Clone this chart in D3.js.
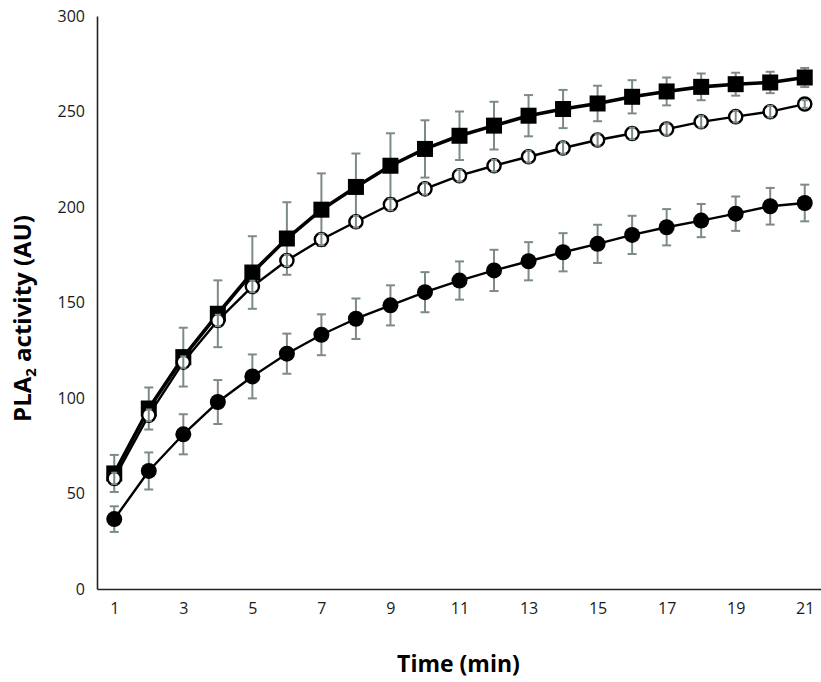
<!DOCTYPE html>
<html>
<head>
<meta charset="utf-8">
<script src="https://cdn.jsdelivr.net/npm/d3@7"></script>
<style>
  html, body { margin: 0; padding: 0; background: #fff; }
  svg { display: block; }
  .tick text { font-family: "Open Sans", sans-serif; font-size: 16px; fill: #1a1a1a; }
</style>
</head>
<body>
<svg id="chart" width="821" height="682"></svg>
<script>
// ---- data ----
const times = [1,2,3,4,5,6,7,8,9,10,11,12,13,14,15,16,17,18,19,20,21];
const xTickLabels = [1,3,5,7,9,11,13,15,17,19,21];
const yTickLabels = [0,50,100,150,200,250,300];

const squareValues = [60.5, 94.5, 121.4, 144.1, 165.7, 183.5, 198.6, 210.5, 221.6, 230.4, 237.3, 242.6, 247.8, 251.3, 254.2, 257.7, 260.5, 262.9, 264.3, 265.2, 267.8];
const squareErrors = [9.7, 11, 15.4, 17.5, 19, 19, 19, 17.5, 17, 15, 12.7, 12.5, 10.8, 10, 9.3, 8.7, 7.3, 7, 6, 5.6, 5];

const openValues = [57.9, 91, 118.8, 140.6, 158.4, 172, 183, 192.3, 201.3, 209.5, 216.4, 221.6, 226.3, 230.9, 235.1, 238.5, 240.8, 244.6, 247.3, 249.9, 253.9];
const openErrors = [3, 3, 3, 3, 3, 3, 3, 3, 3, 3, 3, 3, 3, 3, 3, 3, 3, 3, 3, 3, 2];

const filledValues = [36.6, 61.8, 81, 97.9, 111.3, 123.2, 133.1, 141.5, 148.5, 155.4, 161.5, 166.8, 171.6, 176.3, 180.7, 185.4, 189.4, 192.9, 196.5, 200.4, 202.1];
const filledErrors = [6.7, 9.7, 10.5, 11.5, 11.5, 10.5, 10.7, 10.6, 10.5, 10.5, 10, 10.8, 10, 10, 10, 10, 9.5, 8.7, 9, 9.6, 9.6];

// ---- layout ----
const svg = d3.select("#chart");
const x = d3.scaleLinear().domain([0.5, 21.5]).range([97, 822]);
const y = d3.scaleLinear().domain([0, 300]).range([589, 16]);

const errColor = "#7d8a8a";

// axes
const xAxis = svg.append("g")
  .attr("transform", `translate(0,${y(0)})`)
  .call(d3.axisBottom(x).tickValues(xTickLabels).tickSize(0).tickPadding(14).tickFormat(d3.format("d")));
xAxis.select(".domain").attr("stroke", "#222").attr("stroke-width", 1.6);

const yAxis = svg.append("g")
  .attr("transform", `translate(${x(0.5)},0)`)
  .call(d3.axisLeft(y).tickValues(yTickLabels).tickSize(0).tickPadding(12));
yAxis.select(".domain").attr("stroke", "#222").attr("stroke-width", 1.6);

// series
const series = [
  {values: squareValues, errors: squareErrors, marker: "square", lw: 3.6},
  {values: openValues, errors: openErrors, marker: "open", lw: 2.4},
  {values: filledValues, errors: filledErrors, marker: "filled", lw: 2.4}
];

const line = d3.line().x((d, i) => x(times[i])).y(d => y(d));

// lines
series.forEach(s => {
  svg.append("path").datum(s.values)
    .attr("fill", "none").attr("stroke", "#000").attr("stroke-width", s.lw)
    .attr("stroke-linejoin", "round")
    .attr("d", line);
});

function drawErrors(s, cap) {
  const g = svg.append("g").attr("stroke", errColor).attr("stroke-width", 2);
  s.values.forEach((v, i) => {
    const cx = x(times[i]);
    const y1 = y(v + s.errors[i]), y2 = y(v - s.errors[i]);
    g.append("line").attr("x1", cx).attr("x2", cx).attr("y1", y1).attr("y2", y2);
    g.append("line").attr("x1", cx - cap).attr("x2", cx + cap).attr("y1", y1).attr("y2", y1);
    g.append("line").attr("x1", cx - cap).attr("x2", cx + cap).attr("y1", y2).attr("y2", y2);
  });
}

// error bars below solid markers
drawErrors(series[0], 4.5);
drawErrors(series[2], 4.5);

// markers
series.forEach(s => {
  const g = svg.append("g");
  s.values.forEach((v, i) => {
    const cx = x(times[i]), cy = y(v);
    if (s.marker === "square") {
      g.append("rect").attr("x", cx - 8).attr("y", cy - 8).attr("width", 16).attr("height", 16).attr("fill", "#000");
    } else if (s.marker === "filled") {
      g.append("circle").attr("cx", cx).attr("cy", cy).attr("r", 8).attr("fill", "#000");
    } else {
      g.append("circle").attr("cx", cx).attr("cy", cy).attr("r", 6.6).attr("fill", "#fff")
        .attr("stroke", "#000").attr("stroke-width", 2.4);
    }
  });
});

// open circle error bars drawn over markers (small, inside the circles)
drawErrors(series[1], 3);

// titles
svg.append("text")
  .attr("x", (x(0.5) + 820) / 2).attr("y", 672)
  .attr("text-anchor", "middle")
  .attr("font-family", "'Open Sans', sans-serif").attr("font-weight", "bold").attr("font-size", 23)
  .attr("fill", "#000")
  .text("Time (min)");

const yt = svg.append("text")
  .attr("transform", `translate(31,${(y(0) + y(300)) / 2 + 16}) rotate(-90)`)
  .attr("text-anchor", "middle")
  .attr("font-family", "'Open Sans', sans-serif").attr("font-weight", "bold").attr("font-size", 24)
  .attr("fill", "#000");
yt.append("tspan").text("PLA");
yt.append("tspan").attr("font-size", 15).attr("dy", 5).text("2");
yt.append("tspan").attr("dy", -5).text(" activity (AU)");
</script>
</body>
</html>
